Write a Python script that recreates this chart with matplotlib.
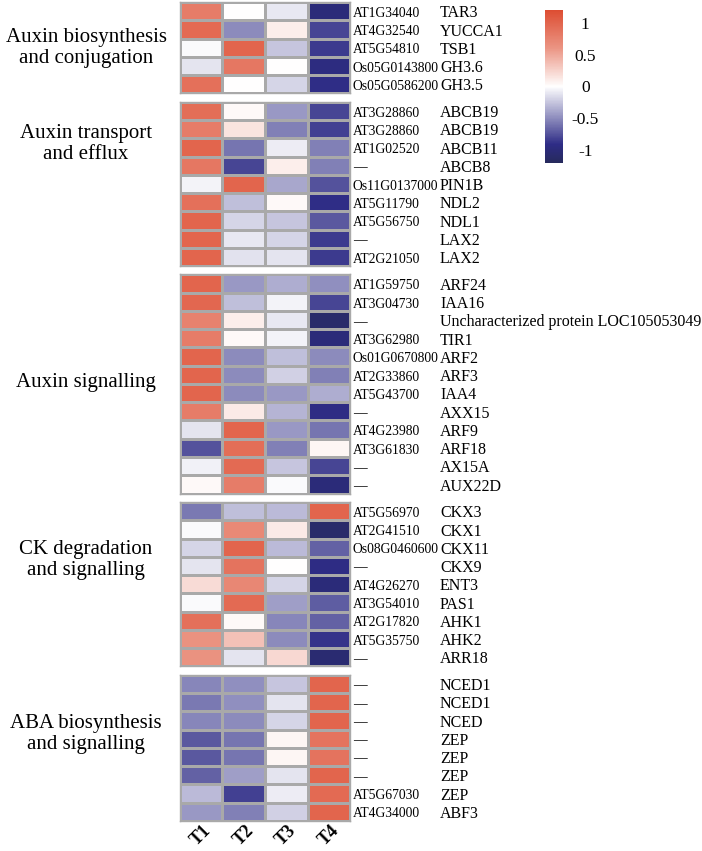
import numpy as np
import matplotlib
matplotlib.use("Agg")
import matplotlib.pyplot as plt
from matplotlib.colors import LinearSegmentedColormap
from matplotlib.transforms import blended_transform_factory

plt.rcParams['font.family'] = ['Liberation Serif', 'DejaVu Serif']

timepoints = ["T1", "T2", "T3", "T4"]

group_titles = ["Auxin biosynthesis\nand conjugation",
                "Auxin transport\nand efflux",
                "Auxin signalling",
                "CK degradation\nand signalling",
                "ABA biosynthesis\nand signalling"]

g1_ids = ["AT1G34040", "AT4G32540", "AT5G54810", "Os05G0143800", "Os05G0586200"]
g1_names = ["TAR3", "YUCCA1", "TSB1", "GH3.6", "GH3.5"]
g1_vals = [[0.80, 0.00, -0.10, -1.00],
           [0.95, -0.50, 0.10, -0.80],
           [-0.02, 1.00, -0.25, -0.85],
           [-0.12, 0.85, 0.00, -0.95],
           [0.90, 0.00, -0.18, -0.90]]

g2_ids = ["AT3G28860", "AT3G28860", "AT1G02520", "\u2014", "Os11G0137000",
          "AT5G11790", "AT5G56750", "\u2014", "AT2G21050"]
g2_names = ["ABCB19", "ABCB19", "ABCB11", "ABCB8", "PIN1B", "NDL2", "NDL1", "LAX2", "LAX2"]
g2_vals = [[0.92, 0.03, -0.45, -0.80],
           [0.80, 0.15, -0.55, -0.82],
           [1.00, -0.60, -0.08, -0.55],
           [0.85, -0.80, 0.10, -0.55],
           [-0.05, 1.00, -0.38, -0.75],
           [0.90, -0.28, 0.03, -0.90],
           [1.00, -0.18, -0.25, -0.72],
           [1.00, -0.10, -0.18, -0.85],
           [1.00, -0.13, -0.12, -0.85]]

g3_ids = ["AT1G59750", "AT3G04730", "\u2014", "AT3G62980", "Os01G0670800", "AT2G33860",
          "AT5G43700", "\u2014", "AT4G23980", "AT3G61830", "\u2014", "\u2014"]
g3_names = ["ARF24", "IAA16", "Uncharacterized protein LOC105053049", "TIR1", "ARF2", "ARF3",
            "IAA4", "AXX15", "ARF9", "ARF18", "AX15A", "AUX22D"]
g3_vals = [[1.00, -0.45, -0.35, -0.48],
           [0.98, -0.28, -0.05, -0.80],
           [0.75, 0.10, -0.10, -1.10],
           [0.80, 0.03, -0.05, -1.00],
           [1.00, -0.50, -0.28, -0.50],
           [1.00, -0.50, -0.20, -0.55],
           [1.00, -0.50, -0.45, -0.35],
           [0.80, 0.12, -0.32, -0.92],
           [-0.12, 1.00, -0.45, -0.60],
           [-0.75, 0.92, -0.55, 0.05],
           [-0.06, 0.95, -0.25, -0.80],
           [0.03, 0.80, -0.02, -1.00]]

g4_ids = ["AT5G56970", "AT2G41510", "Os08G0460600", "\u2014", "AT4G26270", "AT3G54010",
          "AT2G17820", "AT5G35750", "\u2014"]
g4_names = ["CKX3", "CKX1", "CKX11", "CKX9", "ENT3", "PAS1", "AHK1", "AHK2", "ARR18"]
g4_vals = [[-0.58, -0.28, -0.30, 1.00],
           [-0.02, 0.70, 0.12, -1.10],
           [-0.18, 1.00, -0.30, -0.68],
           [-0.12, 0.88, 0.00, -0.92],
           [0.20, 0.72, -0.18, -1.00],
           [-0.02, 0.95, -0.42, -0.70],
           [0.90, 0.03, -0.52, -0.68],
           [0.62, 0.35, -0.50, -0.88],
           [0.62, -0.12, 0.22, -1.05]]

g5_ids = ["\u2014", "\u2014", "\u2014", "\u2014", "\u2014", "\u2014", "AT5G67030", "AT4G34000"]
g5_names = ["NCED1", "NCED1", "NCED", "ZEP", "ZEP", "ZEP", "ZEP", "ABF3"]
g5_vals = [[-0.52, -0.48, -0.25, 1.00],
           [-0.58, -0.48, -0.12, 1.00],
           [-0.52, -0.50, -0.18, 1.00],
           [-0.72, -0.60, 0.05, 0.88],
           [-0.72, -0.60, 0.05, 0.88],
           [-0.68, -0.42, -0.12, 1.00],
           [-0.30, -0.82, -0.08, 0.95],
           [-0.45, -0.55, -0.20, 1.00]]

groups = [(g1_ids, g1_names, g1_vals), (g2_ids, g2_names, g2_vals),
          (g3_ids, g3_names, g3_vals), (g4_ids, g4_names, g4_vals),
          (g5_ids, g5_names, g5_vals)]
title_y_px = [48, 144, 382, 560, 734]

# colour map
cmap = LinearSegmentedColormap.from_list(
    "bwr_custom",
    [(0.0, "#262a5c"), (0.12, "#2e2c86"), (0.5, "#ffffff"), (0.75, "#eb9584"), (1.0, "#dd4d32")])
vmin, vmax = -1.2, 1.2

W, H = 702, 851
fig = plt.figure(figsize=(W / 100, H / 100), dpi=100)

left_px, right_px = 180, 350
top_px = 2.0
row_h = 18.25
gap = 8.5
edge = "#a9a9a9"

y = top_px
mesh = None
for gi, (ids, names, vals) in enumerate(groups):
    arr = np.array(vals)
    n = arr.shape[0]
    h = n * row_h
    ax = fig.add_axes([left_px / W, 1 - (y + h) / H, (right_px - left_px) / W, h / H])
    mesh = ax.pcolormesh(np.arange(5), np.arange(n + 1), arr, cmap=cmap, vmin=vmin, vmax=vmax,
                         edgecolors=edge, linewidth=1.0)
    ax.set_xlim(0, 4)
    ax.set_ylim(n, 0)
    for s in ax.spines.values():
        s.set_color(edge)
        s.set_linewidth(1.0)
    ax.set_yticks([])
    tr = blended_transform_factory(fig.transFigure, ax.transData)
    for i in range(n):
        ax.text(353 / W, i + 0.62, ids[i], transform=tr, ha="left", va="center", fontsize=9.8)
        ax.text(440 / W, i + 0.62, names[i], transform=tr, ha="left", va="center", fontsize=11.5)
    if gi == len(groups) - 1:
        ax.set_xticks(np.arange(4) + 0.5)
        ax.set_xticklabels(timepoints, rotation=45, ha="center", va="top",
                           fontsize=13, fontweight="bold")
        ax.tick_params(axis="x", length=0, pad=1)
    else:
        ax.set_xticks([])
    fig.text(86 / W, 1 - title_y_px[gi] / H, group_titles[gi], ha="center", va="center",
             multialignment="center", fontsize=15, linespacing=1.1)
    y += h + gap

# colorbar
cax = fig.add_axes([545 / W, 1 - 163 / H, 18 / W, 153 / H])
cb = fig.colorbar(mesh, cax=cax, ticks=[-1, -0.5, 0, 0.5, 1])
cb.outline.set_visible(False)
cb.ax.set_yticklabels(["-1", "-0.5", "0", "0.5", "1"])
cb.ax.tick_params(length=0, pad=16, labelsize=12.5)
for lab in cb.ax.get_yticklabels():
    lab.set_horizontalalignment("center")

fig.savefig("out.png", dpi=100)
